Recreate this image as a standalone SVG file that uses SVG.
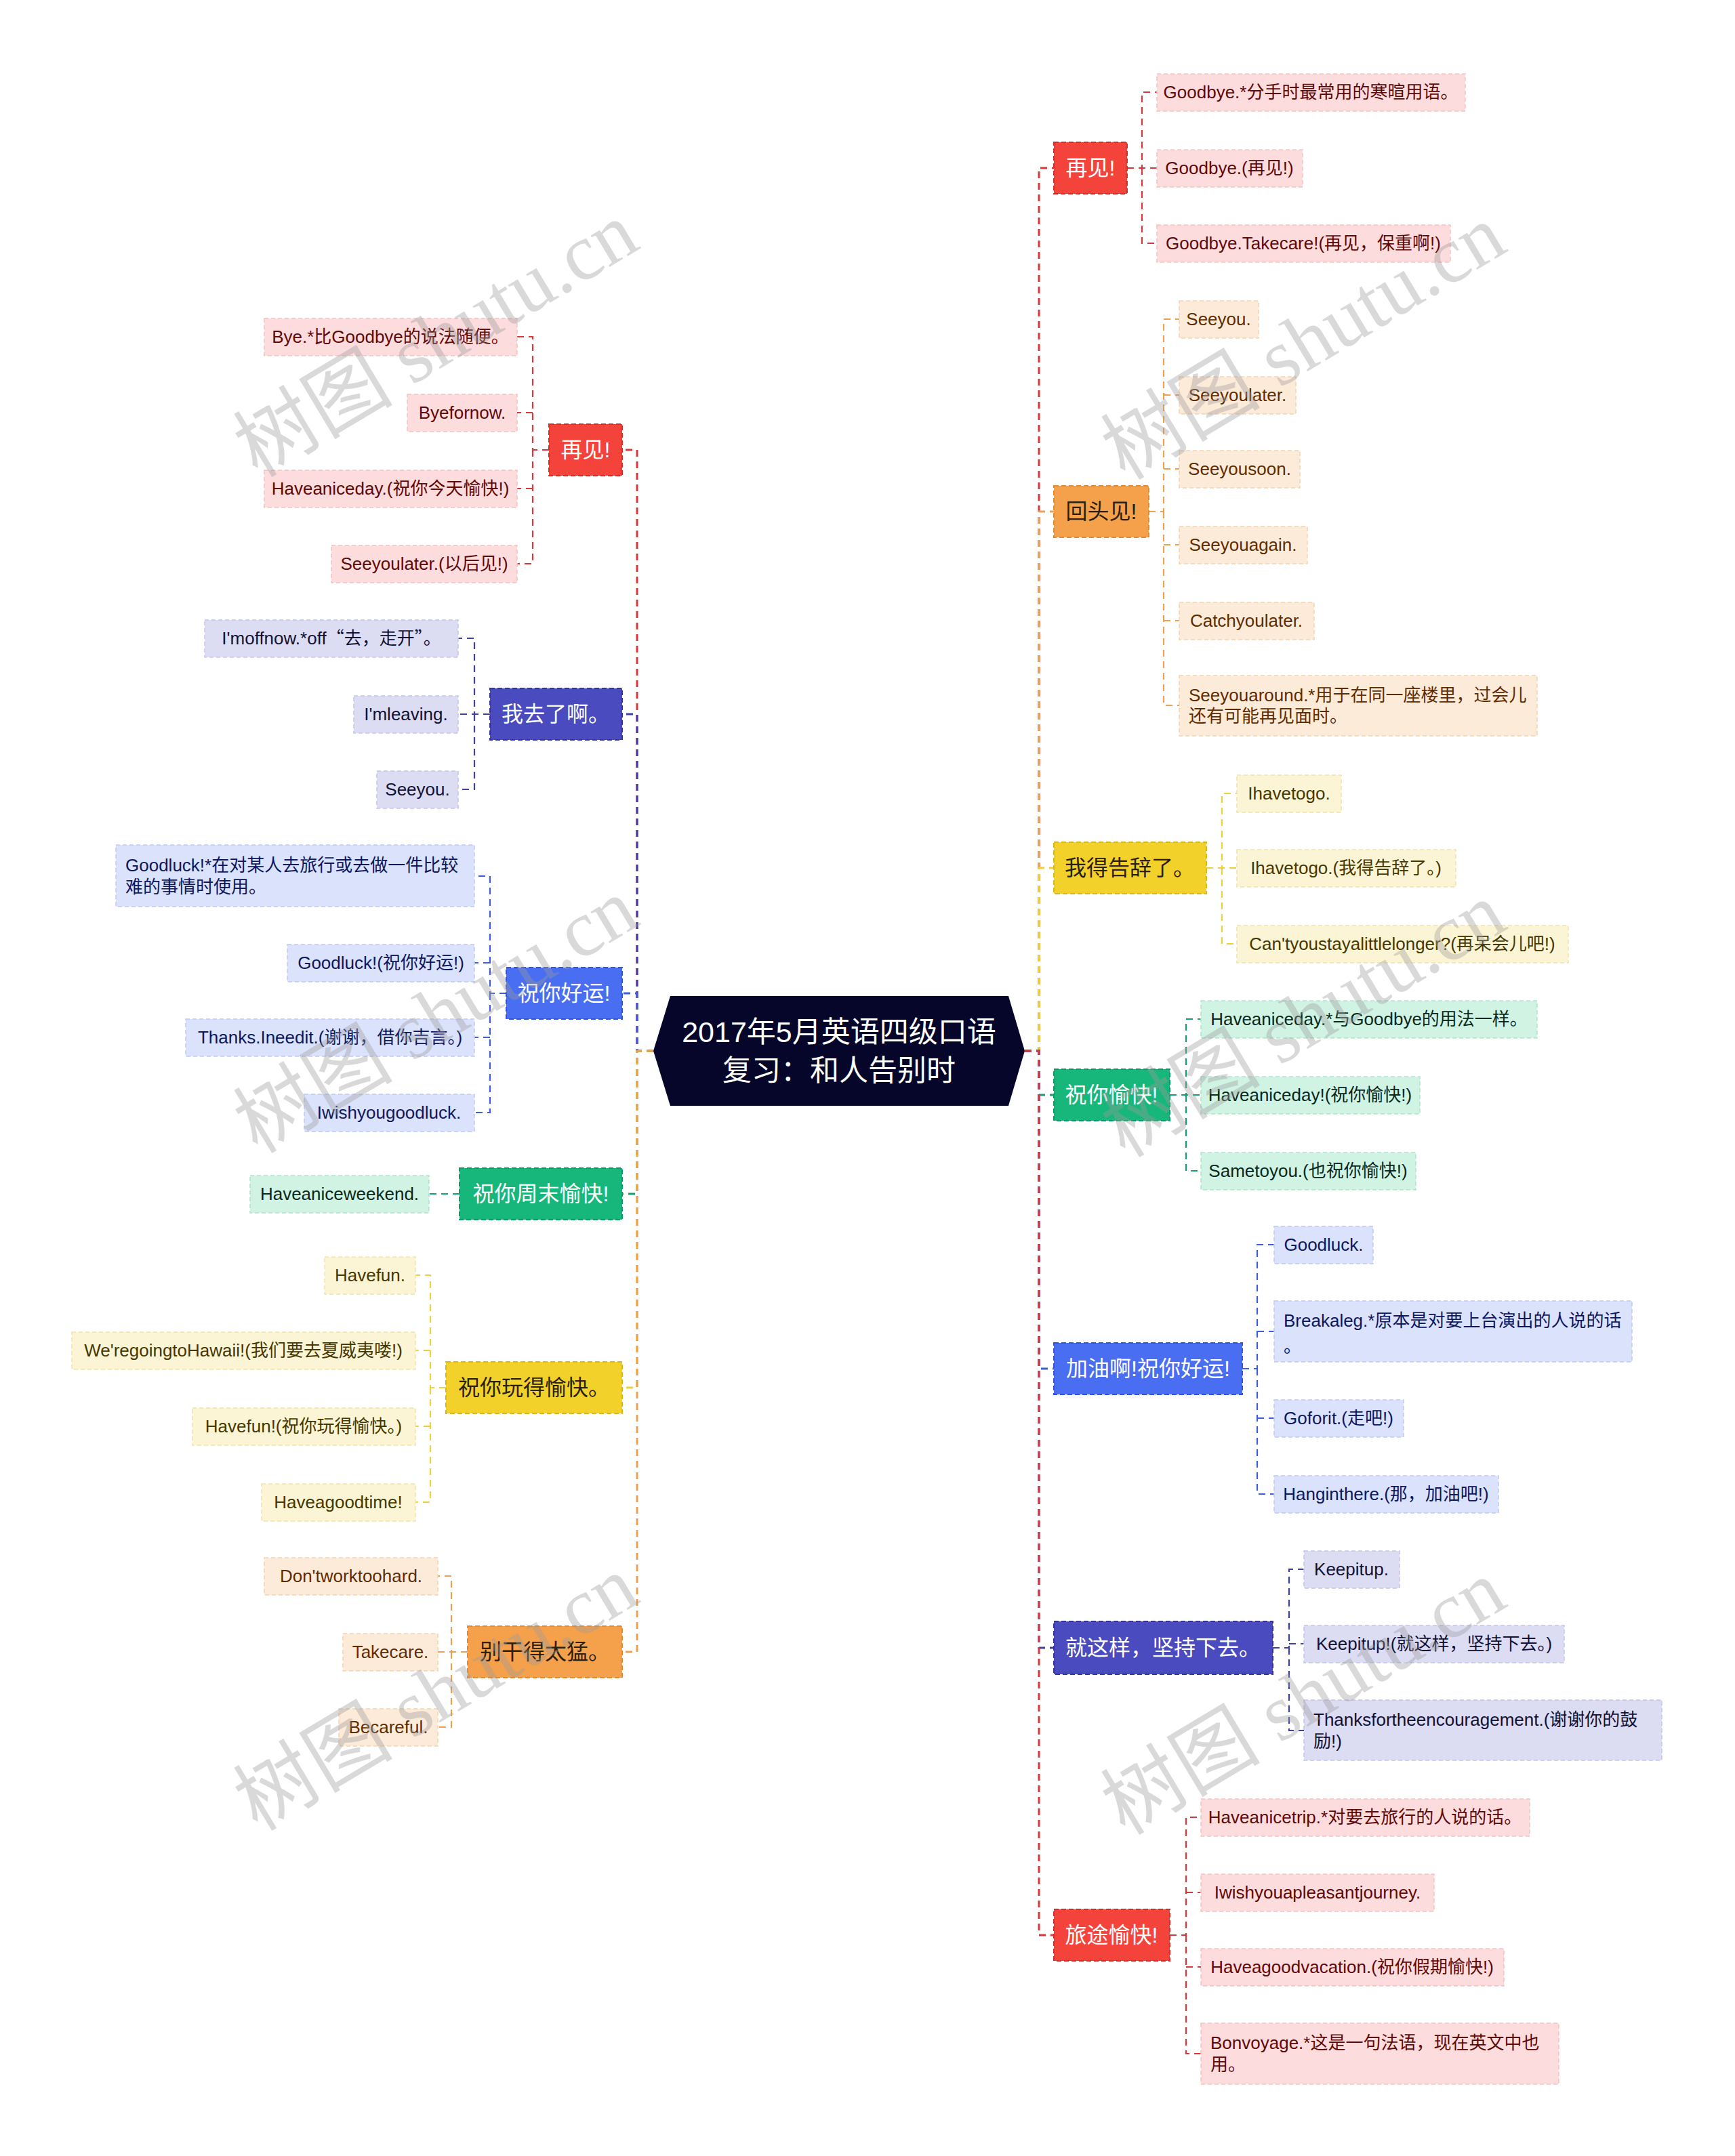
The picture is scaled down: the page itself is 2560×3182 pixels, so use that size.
<svg xmlns="http://www.w3.org/2000/svg" width="2560" height="3182" viewBox="0 0 2560 3182">
<style>
text{font-family:"Liberation Sans","Noto Sans CJK SC",sans-serif}
.cjk{font-family:"Noto Sans CJK SC",sans-serif}
.lt{font-size:26px}
.bt{font-size:32px}
.ct{font-size:43px;fill:#ffffff}
.lf{stroke-width:1.5;stroke-dasharray:6 4}
.bf{stroke-width:2;stroke-dasharray:7 4}
.k{fill:none;stroke-width:3;stroke-dasharray:10 7}
.kc{fill:none;stroke-width:2.2;stroke-dasharray:10 7}
.k-red{stroke:#d9383a}.k-orange{stroke:#eba052}.k-yellow{stroke:#f0d03a}.k-green{stroke:#17a06c}.k-blue{stroke:#3d5fd6}.k-indigo{stroke:#3f3fa8}
.b-red{fill:#f4433b;stroke:#d0302a}.b-orange{fill:#f5a04b;stroke:#e08a35}.b-yellow{fill:#f2d12b;stroke:#d8b81e}.b-green{fill:#17b77b;stroke:#0e9a63}.b-blue{fill:#4a6ef1;stroke:#3054d6}.b-indigo{fill:#4b4bc0;stroke:#33339c}
.w{fill:#ffffff}.d{fill:#2a2010}
.l-red{fill:#fcdcdc;stroke:#f3c2c2}.l-orange{fill:#fdebda;stroke:#f4d3b3}.l-yellow{fill:#fcf5d5;stroke:#efe2ad}.l-green{fill:#d0f3e4;stroke:#ade3cb}.l-blue{fill:#dbe2fb;stroke:#bfcaf2}.l-indigo{fill:#dcdcf3;stroke:#c4c4e6}
.t-red{fill:#5e0808}.t-orange{fill:#5e2c00}.t-yellow{fill:#443800}.t-green{fill:#08281c}.t-blue{fill:#0c1760}.t-indigo{fill:#111135}
.wm{font-family:"Liberation Serif","Noto Sans CJK SC",serif;font-size:118px;fill:#9a9a9a;fill-opacity:0.38}
</style>

<g id="connectors">
<path class="k k-red" d="M1512 1551H1533V248H1555"/>
<path class="k k-orange" d="M1512 1551H1533V755H1555"/>
<path class="k k-yellow" d="M1512 1551H1533V1281H1555"/>
<path class="k k-green" d="M1512 1551H1533V1616H1555"/>
<path class="k k-blue" d="M1512 1551H1533V2020H1555"/>
<path class="k k-indigo" d="M1512 1551H1533V2432H1555"/>
<path class="k k-red" d="M1512 1551H1533V2856H1555"/>
<path class="k k-red" d="M964 1551H940V664H918"/>
<path class="k k-indigo" d="M964 1551H940V1054H918"/>
<path class="k k-blue" d="M964 1551H940V1466H918"/>
<path class="k k-green" d="M964 1551H940V1762H918"/>
<path class="k k-yellow" d="M964 1551H940V2048H918"/>
<path class="k k-orange" d="M964 1551H940V2438H918"/>

<path class="kc k-red" d="M1663 248H1685V136H1707M1663 248H1707M1685 248V359H1707"/>
<path class="kc k-orange" d="M1695 755H1717V471H1740M1717 583H1740M1717 692H1740M1717 804H1740M1717 916H1740M1717 755V1041H1740"/>
<path class="kc k-yellow" d="M1780 1281H1803V1171H1825M1780 1281H1825M1803 1281V1393H1825"/>
<path class="kc k-green" d="M1726 1616H1750V1504H1772M1726 1616H1772M1750 1616V1728H1772"/>
<path class="kc k-blue" d="M1833 2020H1855V1837H1880M1855 1965H1880M1855 2020V2205H1880M1855 2093H1880"/>
<path class="kc k-indigo" d="M1878 2432H1902V2316H1924M1902 2426H1924M1902 2432V2554H1924"/>
<path class="kc k-red" d="M1726 2856H1750V2682H1772M1750 2793H1772M1750 2856V3031H1772M1750 2903H1772"/>
<path class="kc k-red" d="M810 664H786V497H763M786 609H763M786 664V832H763M786 721H763"/>
<path class="kc k-indigo" d="M723 1054H700V942H676M723 1054H676M700 1054V1165H676"/>
<path class="kc k-blue" d="M747 1466H723V1293H700M723 1421H700M723 1466V1642H700M723 1531H700"/>
<path class="kc k-green" d="M678 1762H633"/>
<path class="kc k-yellow" d="M658 2048H635V1882H613M635 1993H613M635 2048V2217H613M635 2105H613"/>
<path class="kc k-orange" d="M690 2438H666V2326H646M690 2438H646M666 2438V2549H646"/>
</g>

<g id="center">
<polygon points="989,1470 1488,1470 1512,1551 1488,1632 989,1632 964,1551" fill="#06062a"/>
<text class="ct" x="1238" y="1538" text-anchor="middle">2017年5月英语四级口语</text>
<text class="ct" x="1238" y="1595" text-anchor="middle">复习：和人告别时</text>
</g>

<!-- Right branches -->
<g id="r1"><rect class="bf b-red" x="1555" y="210" width="108" height="76"/><text class="bt w" x="1609" y="259" text-anchor="middle">再见!</text></g>
<g id="r1a"><rect class="lf l-red" x="1707" y="109" width="455" height="55"/><text class="lt t-red" x="1934" y="145" text-anchor="middle">Goodbye.*分手时最常用的寒暄用语。</text></g>
<g id="r1b"><rect class="lf l-red" x="1707" y="221" width="215" height="55"/><text class="lt t-red" x="1814" y="257" text-anchor="middle">Goodbye.(再见!)</text></g>
<g id="r1c"><rect class="lf l-red" x="1707" y="332" width="433" height="55"/><text class="lt t-red" x="1923" y="368" text-anchor="middle">Goodbye.Takecare!(再见，保重啊!)</text></g>

<g id="r2"><rect class="bf b-orange" x="1555" y="717" width="140" height="76"/><text class="bt d" x="1625" y="766" text-anchor="middle">回头见!</text></g>
<g id="r2a"><rect class="lf l-orange" x="1740" y="444" width="117" height="55"/><text class="lt t-orange" x="1798" y="480" text-anchor="middle">Seeyou.</text></g>
<g id="r2b"><rect class="lf l-orange" x="1740" y="556" width="172" height="55"/><text class="lt t-orange" x="1826" y="592" text-anchor="middle">Seeyoulater.</text></g>
<g id="r2c"><rect class="lf l-orange" x="1740" y="665" width="178" height="55"/><text class="lt t-orange" x="1829" y="701" text-anchor="middle">Seeyousoon.</text></g>
<g id="r2d"><rect class="lf l-orange" x="1740" y="777" width="189" height="55"/><text class="lt t-orange" x="1834" y="813" text-anchor="middle">Seeyouagain.</text></g>
<g id="r2e"><rect class="lf l-orange" x="1740" y="889" width="199" height="55"/><text class="lt t-orange" x="1839" y="925" text-anchor="middle">Catchyoulater.</text></g>
<g id="r2f"><rect class="lf l-orange" x="1740" y="997" width="528" height="89"/><text class="lt t-orange" x="1754" y="1035">Seeyouaround.*用于在同一座楼里，过会儿</text><text class="lt t-orange" x="1754" y="1066">还有可能再见面时。</text></g>

<g id="r3"><rect class="bf b-yellow" x="1555" y="1243" width="225" height="76"/><text class="bt d" x="1667" y="1292" text-anchor="middle">我得告辞了。</text></g>
<g id="r3a"><rect class="lf l-yellow" x="1825" y="1144" width="154" height="55"/><text class="lt t-yellow" x="1902" y="1180" text-anchor="middle">Ihavetogo.</text></g>
<g id="r3b"><rect class="lf l-yellow" x="1825" y="1254" width="323" height="55"/><text class="lt t-yellow" x="1986" y="1290" text-anchor="middle">Ihavetogo.(我得告辞了。)</text></g>
<g id="r3c"><rect class="lf l-yellow" x="1825" y="1366" width="489" height="55"/><text class="lt t-yellow" x="2069" y="1402" text-anchor="middle">Can'tyoustayalittlelonger?(再呆会儿吧!)</text></g>

<g id="r4"><rect class="bf b-green" x="1555" y="1578" width="171" height="76"/><text class="bt w" x="1640" y="1627" text-anchor="middle">祝你愉快!</text></g>
<g id="r4a"><rect class="lf l-green" x="1772" y="1477" width="496" height="55"/><text class="lt t-green" x="2020" y="1513" text-anchor="middle">Haveaniceday.*与Goodbye的用法一样。</text></g>
<g id="r4b"><rect class="lf l-green" x="1772" y="1589" width="323" height="55"/><text class="lt t-green" x="1933" y="1625" text-anchor="middle">Haveaniceday!(祝你愉快!)</text></g>
<g id="r4c"><rect class="lf l-green" x="1772" y="1701" width="317" height="55"/><text class="lt t-green" x="1930" y="1737" text-anchor="middle">Sametoyou.(也祝你愉快!)</text></g>

<g id="r5"><rect class="bf b-blue" x="1555" y="1982" width="278" height="76"/><text class="bt w" x="1694" y="2031" text-anchor="middle">加油啊!祝你好运!</text></g>
<g id="r5a"><rect class="lf l-blue" x="1880" y="1810" width="146" height="55"/><text class="lt t-blue" x="1953" y="1846" text-anchor="middle">Goodluck.</text></g>
<g id="r5b"><rect class="lf l-blue" x="1880" y="1920" width="528" height="90"/><text class="lt t-blue" x="1894" y="1958">Breakaleg.*原本是对要上台演出的人说的话</text><text class="lt t-blue" x="1894" y="1996">。</text></g>
<g id="r5c"><rect class="lf l-blue" x="1880" y="2066" width="191" height="55"/><text class="lt t-blue" x="1975" y="2102" text-anchor="middle">Goforit.(走吧!)</text></g>
<g id="r5d"><rect class="lf l-blue" x="1880" y="2178" width="331" height="55"/><text class="lt t-blue" x="2045" y="2214" text-anchor="middle">Hanginthere.(那，加油吧!)</text></g>

<g id="r6"><rect class="bf b-indigo" x="1555" y="2393" width="323" height="78"/><text class="bt w" x="1716" y="2443" text-anchor="middle">就这样，坚持下去。</text></g>
<g id="r6a"><rect class="lf l-indigo" x="1924" y="2289" width="141" height="55"/><text class="lt t-indigo" x="1994" y="2325" text-anchor="middle">Keepitup.</text></g>
<g id="r6b"><rect class="lf l-indigo" x="1924" y="2399" width="384" height="55"/><text class="lt t-indigo" x="2116" y="2435" text-anchor="middle">Keepitup!(就这样，坚持下去。)</text></g>
<g id="r6c"><rect class="lf l-indigo" x="1924" y="2509" width="528" height="89"/><text class="lt t-indigo" x="1938" y="2547">Thanksfortheencouragement.(谢谢你的鼓</text><text class="lt t-indigo" x="1938" y="2579">励!)</text></g>

<g id="r7"><rect class="bf b-red" x="1555" y="2818" width="171" height="76"/><text class="bt w" x="1640" y="2867" text-anchor="middle">旅途愉快!</text></g>
<g id="r7a"><rect class="lf l-red" x="1772" y="2655" width="485" height="55"/><text class="lt t-red" x="2014" y="2691" text-anchor="middle">Haveanicetrip.*对要去旅行的人说的话。</text></g>
<g id="r7b"><rect class="lf l-red" x="1772" y="2766" width="344" height="55"/><text class="lt t-red" x="1944" y="2802" text-anchor="middle">Iwishyouapleasantjourney.</text></g>
<g id="r7c"><rect class="lf l-red" x="1772" y="2876" width="447" height="55"/><text class="lt t-red" x="1995" y="2912" text-anchor="middle">Haveagoodvacation.(祝你假期愉快!)</text></g>
<g id="r7d"><rect class="lf l-red" x="1772" y="2986" width="528" height="90"/><text class="lt t-red" x="1786" y="3024">Bonvoyage.*这是一句法语，现在英文中也</text><text class="lt t-red" x="1786" y="3056">用。</text></g>

<!-- Left branches -->
<g id="l1"><rect class="bf b-red" x="810" y="626" width="108" height="76"/><text class="bt w" x="864" y="675" text-anchor="middle">再见!</text></g>
<g id="l1a"><rect class="lf l-red" x="390" y="470" width="373" height="55"/><text class="lt t-red" x="576" y="506" text-anchor="middle">Bye.*比Goodbye的说法随便。</text></g>
<g id="l1b"><rect class="lf l-red" x="601" y="582" width="162" height="55"/><text class="lt t-red" x="682" y="618" text-anchor="middle">Byefornow.</text></g>
<g id="l1c"><rect class="lf l-red" x="390" y="694" width="373" height="55"/><text class="lt t-red" x="576" y="730" text-anchor="middle">Haveaniceday.(祝你今天愉快!)</text></g>
<g id="l1d"><rect class="lf l-red" x="489" y="805" width="274" height="55"/><text class="lt t-red" x="626" y="841" text-anchor="middle">Seeyoulater.(以后见!)</text></g>

<g id="l2"><rect class="bf b-indigo" x="723" y="1016" width="195" height="76"/><text class="bt w" x="820" y="1065" text-anchor="middle">我去了啊。</text></g>
<g id="l2a"><rect class="lf l-indigo" x="302" y="915" width="374" height="55"/><text class="lt t-indigo" x="489" y="951" text-anchor="middle">I'moffnow.*off<tspan class="cjk">“去，走开”。</tspan></text></g>
<g id="l2b"><rect class="lf l-indigo" x="522" y="1027" width="154" height="55"/><text class="lt t-indigo" x="599" y="1063" text-anchor="middle">I'mleaving.</text></g>
<g id="l2c"><rect class="lf l-indigo" x="556" y="1138" width="120" height="55"/><text class="lt t-indigo" x="616" y="1174" text-anchor="middle">Seeyou.</text></g>

<g id="l3"><rect class="bf b-blue" x="747" y="1428" width="171" height="76"/><text class="bt w" x="832" y="1477" text-anchor="middle">祝你好运!</text></g>
<g id="l3a"><rect class="lf l-blue" x="171" y="1247" width="529" height="91"/><text class="lt t-blue" x="185" y="1286">Goodluck!*在对某人去旅行或去做一件比较</text><text class="lt t-blue" x="185" y="1318">难的事情时使用。</text></g>
<g id="l3b"><rect class="lf l-blue" x="424" y="1394" width="276" height="55"/><text class="lt t-blue" x="562" y="1430" text-anchor="middle">Goodluck!(祝你好运!)</text></g>
<g id="l3c"><rect class="lf l-blue" x="274" y="1504" width="426" height="55"/><text class="lt t-blue" x="487" y="1540" text-anchor="middle">Thanks.Ineedit.(谢谢，借你吉言。)</text></g>
<g id="l3d"><rect class="lf l-blue" x="449" y="1615" width="251" height="55"/><text class="lt t-blue" x="574" y="1651" text-anchor="middle">Iwishyougoodluck.</text></g>

<g id="l4"><rect class="bf b-green" x="678" y="1724" width="240" height="76"/><text class="bt w" x="798" y="1773" text-anchor="middle">祝你周末愉快!</text></g>
<g id="l4a"><rect class="lf l-green" x="369" y="1735" width="264" height="55"/><text class="lt t-green" x="501" y="1771" text-anchor="middle">Haveaniceweekend.</text></g>

<g id="l5"><rect class="bf b-yellow" x="658" y="2010" width="260" height="76"/><text class="bt d" x="788" y="2059" text-anchor="middle">祝你玩得愉快。</text></g>
<g id="l5a"><rect class="lf l-yellow" x="479" y="1855" width="134" height="55"/><text class="lt t-yellow" x="546" y="1891" text-anchor="middle">Havefun.</text></g>
<g id="l5b"><rect class="lf l-yellow" x="106" y="1966" width="507" height="55"/><text class="lt t-yellow" x="359" y="2002" text-anchor="middle">We'regoingtoHawaii!(我们要去夏威夷喽!)</text></g>
<g id="l5c"><rect class="lf l-yellow" x="284" y="2078" width="329" height="55"/><text class="lt t-yellow" x="448" y="2114" text-anchor="middle">Havefun!(祝你玩得愉快。)</text></g>
<g id="l5d"><rect class="lf l-yellow" x="386" y="2190" width="227" height="55"/><text class="lt t-yellow" x="499" y="2226" text-anchor="middle">Haveagoodtime!</text></g>

<g id="l6"><rect class="bf b-orange" x="690" y="2400" width="228" height="76"/><text class="bt d" x="804" y="2449" text-anchor="middle">别干得太猛。</text></g>
<g id="l6a"><rect class="lf l-orange" x="390" y="2299" width="256" height="55"/><text class="lt t-orange" x="518" y="2335" text-anchor="middle">Don'tworktoohard.</text></g>
<g id="l6b"><rect class="lf l-orange" x="506" y="2411" width="140" height="55"/><text class="lt t-orange" x="576" y="2447" text-anchor="middle">Takecare.</text></g>
<g id="l6c"><rect class="lf l-orange" x="500" y="2522" width="146" height="55"/><text class="lt t-orange" x="573" y="2558" text-anchor="middle">Becareful.</text></g>

<g id="watermarks">
<text class="wm" transform="translate(380 706) rotate(-31)">树图 shutu.cn</text>
<text class="wm" transform="translate(1660 710) rotate(-31)">树图 shutu.cn</text>
<text class="wm" transform="translate(380 1704) rotate(-31)">树图 shutu.cn</text>
<text class="wm" transform="translate(1660 1710) rotate(-31)">树图 shutu.cn</text>
<text class="wm" transform="translate(380 2704) rotate(-31)">树图 shutu.cn</text>
<text class="wm" transform="translate(1660 2710) rotate(-31)">树图 shutu.cn</text>
</g>
</svg>
